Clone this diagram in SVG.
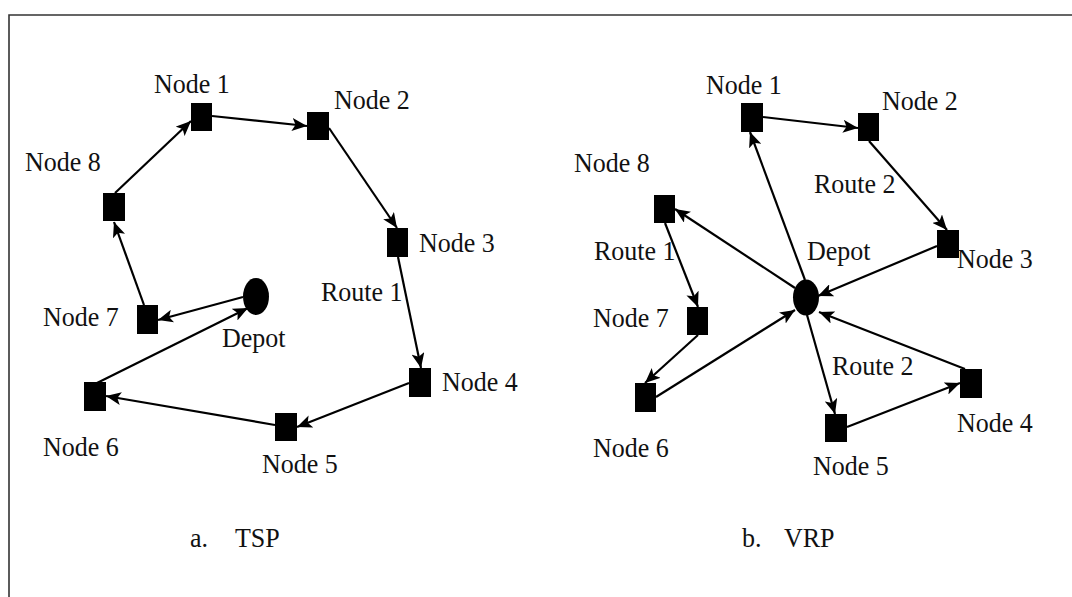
<svg xmlns="http://www.w3.org/2000/svg" width="1072" height="597" viewBox="0 0 1072 597">
<style>
  .node{fill:#000}
  .lbl{font-family:"Liberation Serif","Times New Roman",serif;font-size:26px;fill:#111}
  .edge{stroke:#000;stroke-width:2.2;fill:none;marker-end:url(#arr)}
  .frame{stroke:#333;stroke-width:1.6;fill:none}
</style>
<defs>
  <marker id="arr" markerUnits="userSpaceOnUse" markerWidth="16" markerHeight="13" refX="15" refY="6.5" orient="auto">
    <path d="M0,0 L15,6.5 L0,13 L3.5,6.5 z" fill="#000"/>
  </marker>
</defs>
<rect width="1072" height="597" fill="#fff"/>
<path class="frame" d="M9,597 V15 H1072"/>

<g id="connectors">
  <!-- TSP -->
  <line class="edge" x1="115" y1="193" x2="191" y2="121"/>
  <line class="edge" x1="212" y1="116" x2="307" y2="126"/>
  <line class="edge" x1="329" y1="128" x2="397" y2="228"/>
  <line class="edge" x1="398" y1="257" x2="421" y2="368"/>
  <line class="edge" x1="409" y1="383" x2="297" y2="427"/>
  <line class="edge" x1="275" y1="425" x2="106" y2="396"/>
  <line class="edge" x1="97" y1="383" x2="248" y2="308"/>
  <line class="edge" x1="243" y1="297" x2="158" y2="320"/>
  <line class="edge" x1="144" y1="305" x2="114" y2="222"/>
  <!-- VRP -->
  <line class="edge" x1="805" y1="280" x2="750" y2="132"/>
  <line class="edge" x1="763" y1="117" x2="858" y2="128"/>
  <line class="edge" x1="869" y1="141" x2="947" y2="230"/>
  <line class="edge" x1="937" y1="246" x2="818" y2="296"/>
  <line class="edge" x1="795" y1="288" x2="675" y2="209"/>
  <line class="edge" x1="665" y1="223" x2="698" y2="307"/>
  <line class="edge" x1="698" y1="335" x2="645" y2="383"/>
  <line class="edge" x1="656" y1="397" x2="795" y2="310"/>
  <line class="edge" x1="807" y1="315" x2="835" y2="414"/>
  <line class="edge" x1="847" y1="427" x2="960" y2="383"/>
  <line class="edge" x1="965" y1="369" x2="819" y2="312"/>
</g>

<!-- TSP nodes -->
<g id="tsp-node1"><rect class="node" x="191" y="103" width="21" height="28"/><text class="lbl" transform="translate(154,93) scale(1,1.07)">Node 1</text></g>
<g id="tsp-node2"><rect class="node" x="307" y="112" width="22" height="28"/><text class="lbl" transform="translate(334,109) scale(1,1.07)">Node 2</text></g>
<g id="tsp-node3"><rect class="node" x="387" y="228" width="21" height="29"/><text class="lbl" transform="translate(419,252) scale(1,1.07)">Node 3</text></g>
<g id="tsp-node4"><rect class="node" x="409" y="368" width="22" height="29"/><text class="lbl" transform="translate(442,391) scale(1,1.07)">Node 4</text></g>
<g id="tsp-node5"><rect class="node" x="275" y="413" width="22" height="28"/><text class="lbl" transform="translate(262,473) scale(1,1.07)">Node 5</text></g>
<g id="tsp-node6"><rect class="node" x="84" y="382" width="22" height="29"/><text class="lbl" transform="translate(43,456) scale(1,1.07)">Node 6</text></g>
<g id="tsp-node7"><rect class="node" x="137" y="305" width="21" height="29"/><text class="lbl" transform="translate(43,326) scale(1,1.07)">Node 7</text></g>
<g id="tsp-node8"><rect class="node" x="103" y="193" width="22" height="28"/><text class="lbl" transform="translate(25,171) scale(1,1.07)">Node 8</text></g>
<g id="tsp-depot"><ellipse class="node" cx="256" cy="296.5" rx="13" ry="18.5"/><text class="lbl" transform="translate(222,347) scale(1,1.07)">Depot</text></g>
<g id="tsp-route1"><text class="lbl" transform="translate(321,301) scale(1,1.07)">Route 1</text></g>
<g id="tsp-caption"><text class="lbl" transform="translate(190,547) scale(1,1.07)">a.</text><text class="lbl" transform="translate(235,547) scale(1,1.07)">TSP</text></g>

<!-- VRP nodes -->
<g id="vrp-node1"><rect class="node" x="741" y="103" width="22" height="29"/><text class="lbl" transform="translate(706,94) scale(1,1.07)">Node 1</text></g>
<g id="vrp-node2"><rect class="node" x="858" y="113" width="21" height="28"/><text class="lbl" transform="translate(882,110) scale(1,1.07)">Node 2</text></g>
<g id="vrp-node3"><rect class="node" x="937" y="230" width="22" height="28"/><text class="lbl" transform="translate(957,268) scale(1,1.07)">Node 3</text></g>
<g id="vrp-node4"><rect class="node" x="960" y="369" width="22" height="29"/><text class="lbl" transform="translate(957,432) scale(1,1.07)">Node 4</text></g>
<g id="vrp-node5"><rect class="node" x="825" y="414" width="22" height="28"/><text class="lbl" transform="translate(813,475) scale(1,1.07)">Node 5</text></g>
<g id="vrp-node6"><rect class="node" x="635" y="383" width="21" height="29"/><text class="lbl" transform="translate(593,457) scale(1,1.07)">Node 6</text></g>
<g id="vrp-node7"><rect class="node" x="687" y="307" width="21" height="28"/><text class="lbl" transform="translate(593,327) scale(1,1.07)">Node 7</text></g>
<g id="vrp-node8"><rect class="node" x="654" y="195" width="21" height="28"/><text class="lbl" transform="translate(574,172) scale(1,1.07)">Node 8</text></g>
<g id="vrp-depot"><ellipse class="node" cx="806" cy="297.5" rx="13" ry="18"/><text class="lbl" transform="translate(807,260) scale(1,1.07)">Depot</text></g>
<g id="vrp-route1"><text class="lbl" transform="translate(594,260) scale(1,1.07)">Route 1</text></g>
<g id="vrp-route2a"><text class="lbl" transform="translate(814,193) scale(1,1.07)">Route 2</text></g>
<g id="vrp-route2b"><text class="lbl" transform="translate(832,375) scale(1,1.07)">Route 2</text></g>
<g id="vrp-caption"><text class="lbl" transform="translate(742,547) scale(1,1.07)">b.</text><text class="lbl" transform="translate(784,547) scale(1,1.07)">VRP</text></g>
</svg>
